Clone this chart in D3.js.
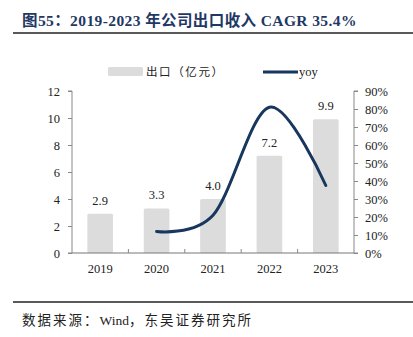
<!DOCTYPE html>
<html>
<head>
<meta charset="utf-8">
<script src="https://cdn.jsdelivr.net/npm/d3@7"></script>
<style>
  body { margin: 0; background: #fff; }
  text { font-family: "Liberation Serif", "Noto Sans CJK SC", serif; }
</style>
</head>
<body>
<div id="chart"></div>
<script>
const years = ["2019", "2020", "2021", "2022", "2023"];
const exportValues = [2.9, 3.3, 4.0, 7.2, 9.9];
const yoyValues = [null, 12, 21, 81, 37.5];
const leftTicks = [0, 2, 4, 6, 8, 10, 12];
const rightTicks = [0, 10, 20, 30, 40, 50, 60, 70, 80, 90];

const width = 413, height = 337;
const margin = { left: 72, right: 59, top: 91, bottom: 84 };
const cjk = '"Noto Sans CJK SC", sans-serif';

const svg = d3.select("#chart").append("svg")
    .attr("width", width)
    .attr("height", height);

// title
svg.append("text")
    .attr("x", 22).attr("y", 26)
    .style("font-size", "15.5px")
    .style("font-weight", "bold")
    .style("letter-spacing", "0.4px")
    .style("fill", "#1f3864")
    .text("图55：2019-2023 年公司出口收入 CAGR 35.4%");

svg.append("line")
    .attr("x1", 13).attr("x2", 413).attr("y1", 33).attr("y2", 33)
    .style("stroke", "#222").style("stroke-width", 1.6);

const x = d3.scaleBand()
    .domain(years)
    .range([margin.left, width - margin.right])
    .paddingInner(0.545)
    .paddingOuter(0.272);

const yLeft = d3.scaleLinear().domain([0, 12]).range([height - margin.bottom, margin.top]);
const yRight = d3.scaleLinear().domain([0, 90]).range([height - margin.bottom, margin.top]);

// bars
svg.selectAll(".bar")
    .data(exportValues)
    .enter().append("rect")
    .attr("x", (d, i) => x(years[i]))
    .attr("y", d => yLeft(d))
    .attr("width", x.bandwidth())
    .attr("height", d => yLeft(0) - yLeft(d))
    .attr("rx", 1.5)
    .style("fill", "#dcdcdc");

svg.selectAll(".barlabel")
    .data(exportValues)
    .enter().append("text")
    .attr("x", (d, i) => x(years[i]) + x.bandwidth() / 2)
    .attr("y", d => yLeft(d) - 9)
    .attr("text-anchor", "middle")
    .style("font-size", "12.5px")
    .style("fill", "#222")
    .text(d => d.toFixed(1));

// axes
const axisLeft = svg.append("g")
    .attr("transform", `translate(${margin.left},0)`)
    .call(d3.axisLeft(yLeft).tickValues(leftTicks).tickSize(4).tickPadding(8));

const axisRight = svg.append("g")
    .attr("transform", `translate(${width - margin.right},0)`)
    .call(d3.axisRight(yRight).tickValues(rightTicks).tickSize(4).tickPadding(7)
        .tickFormat(d => d + "%"));

const bandEdges = d3.range(years.length + 1).map(i => margin.left + i * (width - margin.left - margin.right) / years.length);

const axisBottom = svg.append("g")
    .attr("transform", `translate(0,${height - margin.bottom})`);
axisBottom.append("line")
    .attr("x1", margin.left).attr("x2", width - margin.right)
    .style("stroke", "#777");
axisBottom.selectAll(".tick")
    .data(bandEdges.slice(1, -1))
    .enter().append("line")
    .attr("x1", d => d).attr("x2", d => d)
    .attr("y1", 0).attr("y2", -4)
    .style("stroke", "#888");
axisBottom.selectAll(".xlabel")
    .data(years)
    .enter().append("text")
    .attr("x", d => x(d) + x.bandwidth() / 2)
    .attr("y", 20)
    .attr("text-anchor", "middle")
    .style("font-size", "12.5px")
    .style("fill", "#222")
    .text(d => d);

[axisLeft, axisRight].forEach(g => {
    g.select(".domain").style("stroke", "#888");
    g.selectAll(".tick line").style("stroke", "#888");
    g.selectAll(".tick text")
        .style("font-size", "12.5px")
        .style("fill", "#222")
        .style("font-family", '"Liberation Serif", serif');
});
axisLeft.select(".domain").attr("d", `M-4,${yLeft(12)}H0V${yLeft(0)}H-4`);
axisRight.select(".domain").attr("d", `M4,${yRight(90)}H0V${yRight(0)}H4`);

// yoy line
const line = d3.line()
    .defined(d => d != null)
    .x((d, i) => x(years[i]) + x.bandwidth() / 2)
    .y(d => yRight(d))
    .curve(d3.curveCatmullRom.alpha(0));

svg.append("path")
    .datum(yoyValues)
    .attr("d", line)
    .style("fill", "none")
    .style("stroke", "#17375e")
    .style("stroke-width", 3)
    .style("stroke-linecap", "round");

// legend
svg.append("rect")
    .attr("x", 108).attr("y", 67).attr("width", 35).attr("height", 9)
    .attr("rx", 1.5)
    .style("fill", "#dcdcdc");
svg.append("text")
    .attr("x", 146).attr("y", 76)
    .style("font-size", "11.5px")
    .style("letter-spacing", "1.6px")
    .style("font-family", cjk)
    .style("fill", "#222")
    .text("出口（亿元）");

svg.append("line")
    .attr("x1", 263).attr("x2", 298).attr("y1", 72).attr("y2", 72)
    .style("stroke", "#17375e").style("stroke-width", 3);
svg.append("text")
    .attr("x", 299).attr("y", 76)
    .style("font-size", "12.5px")
    .style("fill", "#222")
    .text("yoy");

// footer
svg.append("line")
    .attr("x1", 13).attr("x2", 413).attr("y1", 302).attr("y2", 302)
    .style("stroke", "#222").style("stroke-width", 1.6);
const footer = svg.append("text")
    .attr("x", 22).attr("y", 325)
    .style("font-size", "13.5px")
    .style("fill", "#222");
footer.append("tspan").style("letter-spacing", "2px").text("数据来源：");
footer.append("tspan").text("Wind");
footer.append("tspan").style("letter-spacing", "2px").text("，东吴证券研究所");
</script>
</body>
</html>
